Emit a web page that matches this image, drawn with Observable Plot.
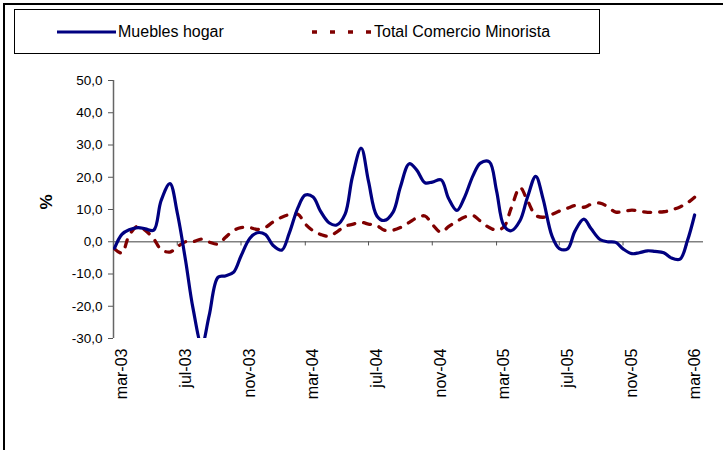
<!DOCTYPE html>
<html><head><meta charset="utf-8">
<script src="https://cdn.jsdelivr.net/npm/d3@7"></script>
<script src="https://cdn.jsdelivr.net/npm/@observablehq/plot@0.6"></script>
<style>
body{margin:0;background:#fff;font-family:"Liberation Sans",Arial,sans-serif}
#wrap{position:relative;width:723px;height:450px;overflow:hidden;background:#fff}
#frame{position:absolute;left:3px;top:3px;width:740px;height:470px;border:2px solid #000;box-sizing:border-box}
#legend{position:absolute;left:14px;top:9px;width:586px;height:45px;border:1px solid #000;box-sizing:border-box;background:#fff}
.lg{position:absolute;top:13px;font-size:16px;color:#000;white-space:nowrap;line-height:18px}
#chart{position:absolute;left:0;top:60px}
</style></head>
<body>
<div id="wrap">
  <div id="frame"></div>
  <div id="legend">
    <svg width="584" height="43" style="position:absolute;left:0;top:0">
      <line x1="42" x2="101" y1="22" y2="22" stroke="#000080" stroke-width="3"/>
      <line x1="297" x2="358" y1="22" y2="22" stroke="#800000" stroke-width="3.3" stroke-dasharray="5,13"/>
    </svg>
    <div class="lg" style="left:103px">Muebles hogar</div>
    <div class="lg" style="left:359px">Total Comercio Minorista</div>
  </div>
  <div id="chart"></div>
</div>
<script>
// Semi-monthly observations, starting mid-Feb 2003 through Mar 2006
const nPoints = 74;
const dates = d3.range(nPoints).map(k => k % 2 === 0
  ? new Date(Date.UTC(2003, 1 + k / 2, 15))
  : new Date(Date.UTC(2003, 1 + (k + 1) / 2, 1)));

const muebles = [-2.0, 2.3, 3.7, 4.4, 4.0, 3.6, 12.7, 18.0, 9.0, -5.9,
  -20.5, -32, -22.9, -11, -10.6, -9.4, -4.4, 1.1, 2.8, 2.2,
  -1.1, -2.6, 2.5, 10.6, 14.5, 13.9, 9.5, 5.8, 5.2, 8.5,
  20, 29, 18.7, 8, 6.6, 9.2, 17, 24.2, 22.3, 18.3,
  18.5, 19.2, 13.5, 9.7, 13.5, 20.5, 24.4, 24.8, 15.8, 5,
  3.4, 6.6, 13.7, 20.3, 13.3, 1.8, -2.1, -2.2, 3.3, 7.0,
  4, 0.7, 0, -0.2, -2.2, -3.7, -3.4, -2.8, -3.0, -3.4,
  -5.0, -5.4, 0.2, 8.3];

const totalMinorista = [-2.2, -3.5, 2.0, 4.9, 3.5, 0.9, -2.4, -3.2, -1.6, 0,
  0, 0.8, -0.1, -0.7, 1.3, 3.5, 4.4, 4.4, 3.8, 4.5,
  6.1, 7.6, 8.4, 8.5, 5.5, 3.4, 2.3, 1.7, 3.0, 4.8,
  5.4, 6.0, 5.5, 5.0, 3.6, 3.6, 4.4, 6.0, 7.4, 8.0,
  5.4, 2.9, 4.7, 6.3, 7.6, 8.1, 6.4, 4.4, 3.6, 4.6,
  10.4, 16.8, 12.8, 8.2, 7.6, 8.5, 9.5, 10.4, 11.2, 10.7,
  11.6, 12.0, 10.9, 9.2, 9.4, 9.8, 9.5, 9.1, 9.2, 9.3,
  9.8, 10.8, 12.0, 13.8];

const tickLabels = ["mar-03","jul-03","nov-03","mar-04","jul-04","nov-04","mar-05","jul-05","nov-05","mar-06"];
const labelDates = ["2003-03-01","2003-07-01","2003-11-01","2004-03-01","2004-07-01","2004-11-01","2005-03-01","2005-07-01","2005-11-01","2006-03-01"].map(s => new Date(s + "T00:00:00Z"));
const tickMarkDates = ["2003-06-15","2003-10-15","2004-02-15","2004-06-15","2004-10-15","2005-02-15","2005-06-15","2005-10-15","2006-02-15"].map(s => new Date(s + "T00:00:00Z"));
const yTicks = [-30, -20, -10, 0, 10, 20, 30, 40, 50];

const rowsM = dates.map((d, i) => ({date: d, v: muebles[i]}));
const rowsT = dates.map((d, i) => ({date: d, v: totalMinorista[i]}));

const fmtY = d => d.toFixed(1).replace(".", ",");
const labelOf = d => tickLabels[labelDates.findIndex(t => +t === +d)];

const chart = Plot.plot({
  width: 723,
  height: 390,
  marginLeft: 113,
  marginRight: 20,
  marginTop: 20,
  marginBottom: 112,
  style: {fontFamily: "Liberation Sans, Arial, sans-serif", color: "#000", background: "transparent"},
  x: {type: "utc", domain: [new Date("2003-02-13T00:00:00Z"), new Date("2006-03-18T00:00:00Z")]},
  y: {domain: [-30, 50]},
  marks: [
    Plot.ruleY([0], {stroke: "#808080", strokeWidth: 1.5}),
    Plot.ruleX(tickMarkDates, {y1: 0, y2: -1.3, stroke: "#555", strokeWidth: 1}),
    Plot.ruleX([new Date("2003-02-13T00:00:00Z")], {y1: -30, y2: 50, stroke: "#666", strokeWidth: 1.5}),
    Plot.axisY(yTicks, {tickSize: 5, tickPadding: 6, tickFormat: fmtY, fontSize: 13.5, stroke: "#555", label: null}),
    Plot.axisX(labelDates, {tickSize: 0, tickPadding: 10, tickRotate: -90, tickFormat: labelOf, fontSize: 16, label: null}),
    Plot.text(["%"], {frameAnchor: "left", dx: -67, rotate: -90, fontWeight: "bold", fontSize: 17, fill: "#000"}),
    Plot.line(rowsT, {x: "date", y: "v", stroke: "#800000", strokeWidth: 3.3, strokeDasharray: "7,9", curve: "catmull-rom", clip: true}),
    Plot.line(rowsM, {x: "date", y: "v", stroke: "#000080", strokeWidth: 3.2, curve: "catmull-rom", clip: true})
  ]
});
document.getElementById("chart").appendChild(chart);
</script>
</body></html>
